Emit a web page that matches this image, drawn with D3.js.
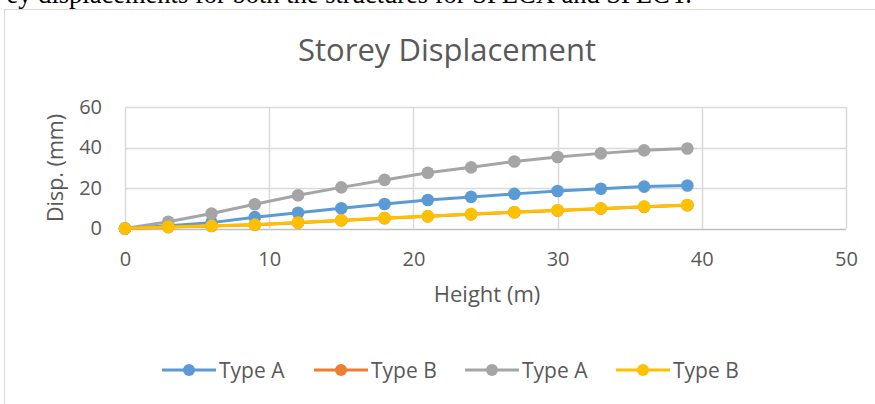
<!DOCTYPE html>
<html>
<head>
<meta charset="utf-8">
<script src="https://cdn.jsdelivr.net/npm/d3@7/dist/d3.min.js"></script>
<style>
  html, body { margin: 0; padding: 0; background: #fff; overflow: hidden; }
  svg { display: block; }
</style>
</head>
<body>
<script>
// Storey heights (m) and displacements (mm)
const heights = [0, 3, 6, 9, 12, 15, 18, 21, 24, 27, 30, 33, 36, 39];
const dispTypeA1 = [0, 1.3, 2.9, 5.6, 7.8, 10.0, 12.1, 14.1, 15.6, 17.1, 18.5, 19.6, 20.7, 21.2];
const dispTypeB1 = [0, 0.7, 1.2, 1.8, 2.9, 4.0, 5.1, 6.0, 7.0, 8.0, 8.9, 9.8, 10.7, 11.5];
const dispTypeA2 = [0, 3.3, 7.4, 12.0, 16.4, 20.3, 24.0, 27.5, 30.2, 33.1, 35.3, 37.1, 38.6, 39.5];
const dispTypeB2 = [0, 0.8, 1.3, 1.9, 3.0, 4.1, 5.2, 6.1, 7.1, 8.1, 9.0, 9.9, 10.8, 11.6];
const seriesNames = ["Type A", "Type B", "Type A", "Type B"];
const seriesColors = ["#5B9BD5", "#ED7D31", "#A5A5A5", "#FFC000"];
const xTicks = [0, 10, 20, 30, 40, 50];
const yTicks = [0, 20, 40, 60];

const series = [dispTypeA1, dispTypeB1, dispTypeA2, dispTypeB2].map((vals, i) => ({
  name: seriesNames[i],
  color: seriesColors[i],
  points: heights.map((h, j) => ({ x: h, y: vals[j] }))
}));

const W = 875, H = 404;
const font = "'Open Sans', 'Noto Sans', sans-serif";
const textGrey = "#595959";

const svg = d3.select("body").append("svg").attr("width", W).attr("height", H);

// Running document text above the chart frame
svg.append("text")
  .attr("x", 692).attr("y", 3)
  .attr("text-anchor", "end")
  .attr("font-family", "'Liberation Serif', 'Times New Roman', serif")
  .attr("font-size", 26.5)
  .attr("fill", "#000")
  .text("ey displacements for both the structures for SPECX and SPECY.");

// Chart frame
svg.append("rect")
  .attr("x", 4.5).attr("y", 9.5)
  .attr("width", 1000).attr("height", 600)
  .attr("fill", "#fff")
  .attr("stroke", "#D9D9D9").attr("stroke-width", 1);

const plot = { left: 125, right: 846, top: 107, bottom: 228.5 };
const x = d3.scaleLinear().domain([0, 50]).range([plot.left, plot.right]);
const y = d3.scaleLinear().domain([0, 60]).range([plot.bottom, plot.top]);

// Title
svg.append("text")
  .attr("x", 447).attr("y", 61)
  .attr("text-anchor", "middle")
  .attr("font-family", font).attr("font-size", 31)
  .attr("fill", textGrey)
  .text("Storey Displacement");

// Gridlines
const grid = svg.append("g");
grid.selectAll("line.h").data(yTicks).join("line")
  .attr("x1", plot.left).attr("x2", plot.right)
  .attr("y1", d => Math.round(y(d)) + 0.5).attr("y2", d => Math.round(y(d)) + 0.5)
  .attr("stroke", d => d === 0 ? "#BFBFBF" : "#D9D9D9").attr("stroke-width", 1.5);
grid.selectAll("line.v").data(xTicks).join("line")
  .attr("y1", plot.top).attr("y2", plot.bottom)
  .attr("x1", d => Math.round(x(d)) + 0.5).attr("x2", d => Math.round(x(d)) + 0.5)
  .attr("stroke", "#D9D9D9").attr("stroke-width", 1.5);

// Axes (labels only)
const xAxis = svg.append("g")
  .attr("transform", `translate(0,${plot.bottom + 19})`)
  .call(d3.axisBottom(x).tickValues(xTicks).tickSize(0).tickPadding(4));
const yAxis = svg.append("g")
  .attr("transform", `translate(${plot.left - 23},0)`)
  .call(d3.axisLeft(y).tickValues(yTicks).tickSize(0).tickPadding(0));
[xAxis, yAxis].forEach(g => {
  g.select(".domain").remove();
  g.selectAll("text").attr("font-family", font).attr("font-size", 20).attr("fill", textGrey);
});

// Axis titles
svg.append("text")
  .attr("x", 487).attr("y", 302)
  .attr("text-anchor", "middle")
  .attr("font-family", font).attr("font-size", 22)
  .attr("fill", textGrey)
  .text("Height (m)");
svg.append("text")
  .attr("transform", "translate(63,168) rotate(-90)")
  .attr("text-anchor", "middle")
  .attr("font-family", font).attr("font-size", 21.5)
  .attr("fill", textGrey)
  .text("Disp. (mm)");

// Series lines and markers
const line = d3.line().x(d => x(d.x)).y(d => y(d.y));
const sg = svg.append("g").selectAll("g").data(series).join("g");
sg.append("path")
  .attr("d", d => line(d.points))
  .attr("fill", "none")
  .attr("stroke", d => d.color)
  .attr("stroke-width", 3)
  .attr("stroke-linejoin", "round");
sg.selectAll("circle").data(d => d.points.map(p => ({ ...p, color: d.color }))).join("circle")
  .attr("cx", d => x(d.x)).attr("cy", d => y(d.y))
  .attr("r", 6.3)
  .attr("fill", d => d.color);

// Legend
const legendX = [162, 314, 465, 616];
const lg = svg.append("g").selectAll("g").data(series).join("g")
  .attr("transform", (d, i) => `translate(${legendX[i]},370)`);
lg.append("line")
  .attr("x1", 0).attr("x2", 54).attr("y1", 0).attr("y2", 0)
  .attr("stroke", d => d.color).attr("stroke-width", 3);
lg.append("circle")
  .attr("cx", 27).attr("cy", 0).attr("r", 6)
  .attr("fill", d => d.color);
lg.append("text")
  .attr("x", 57).attr("y", 7.5)
  .attr("font-family", font).attr("font-size", 21)
  .attr("fill", textGrey)
  .text(d => d.name);
</script>
</body>
</html>
